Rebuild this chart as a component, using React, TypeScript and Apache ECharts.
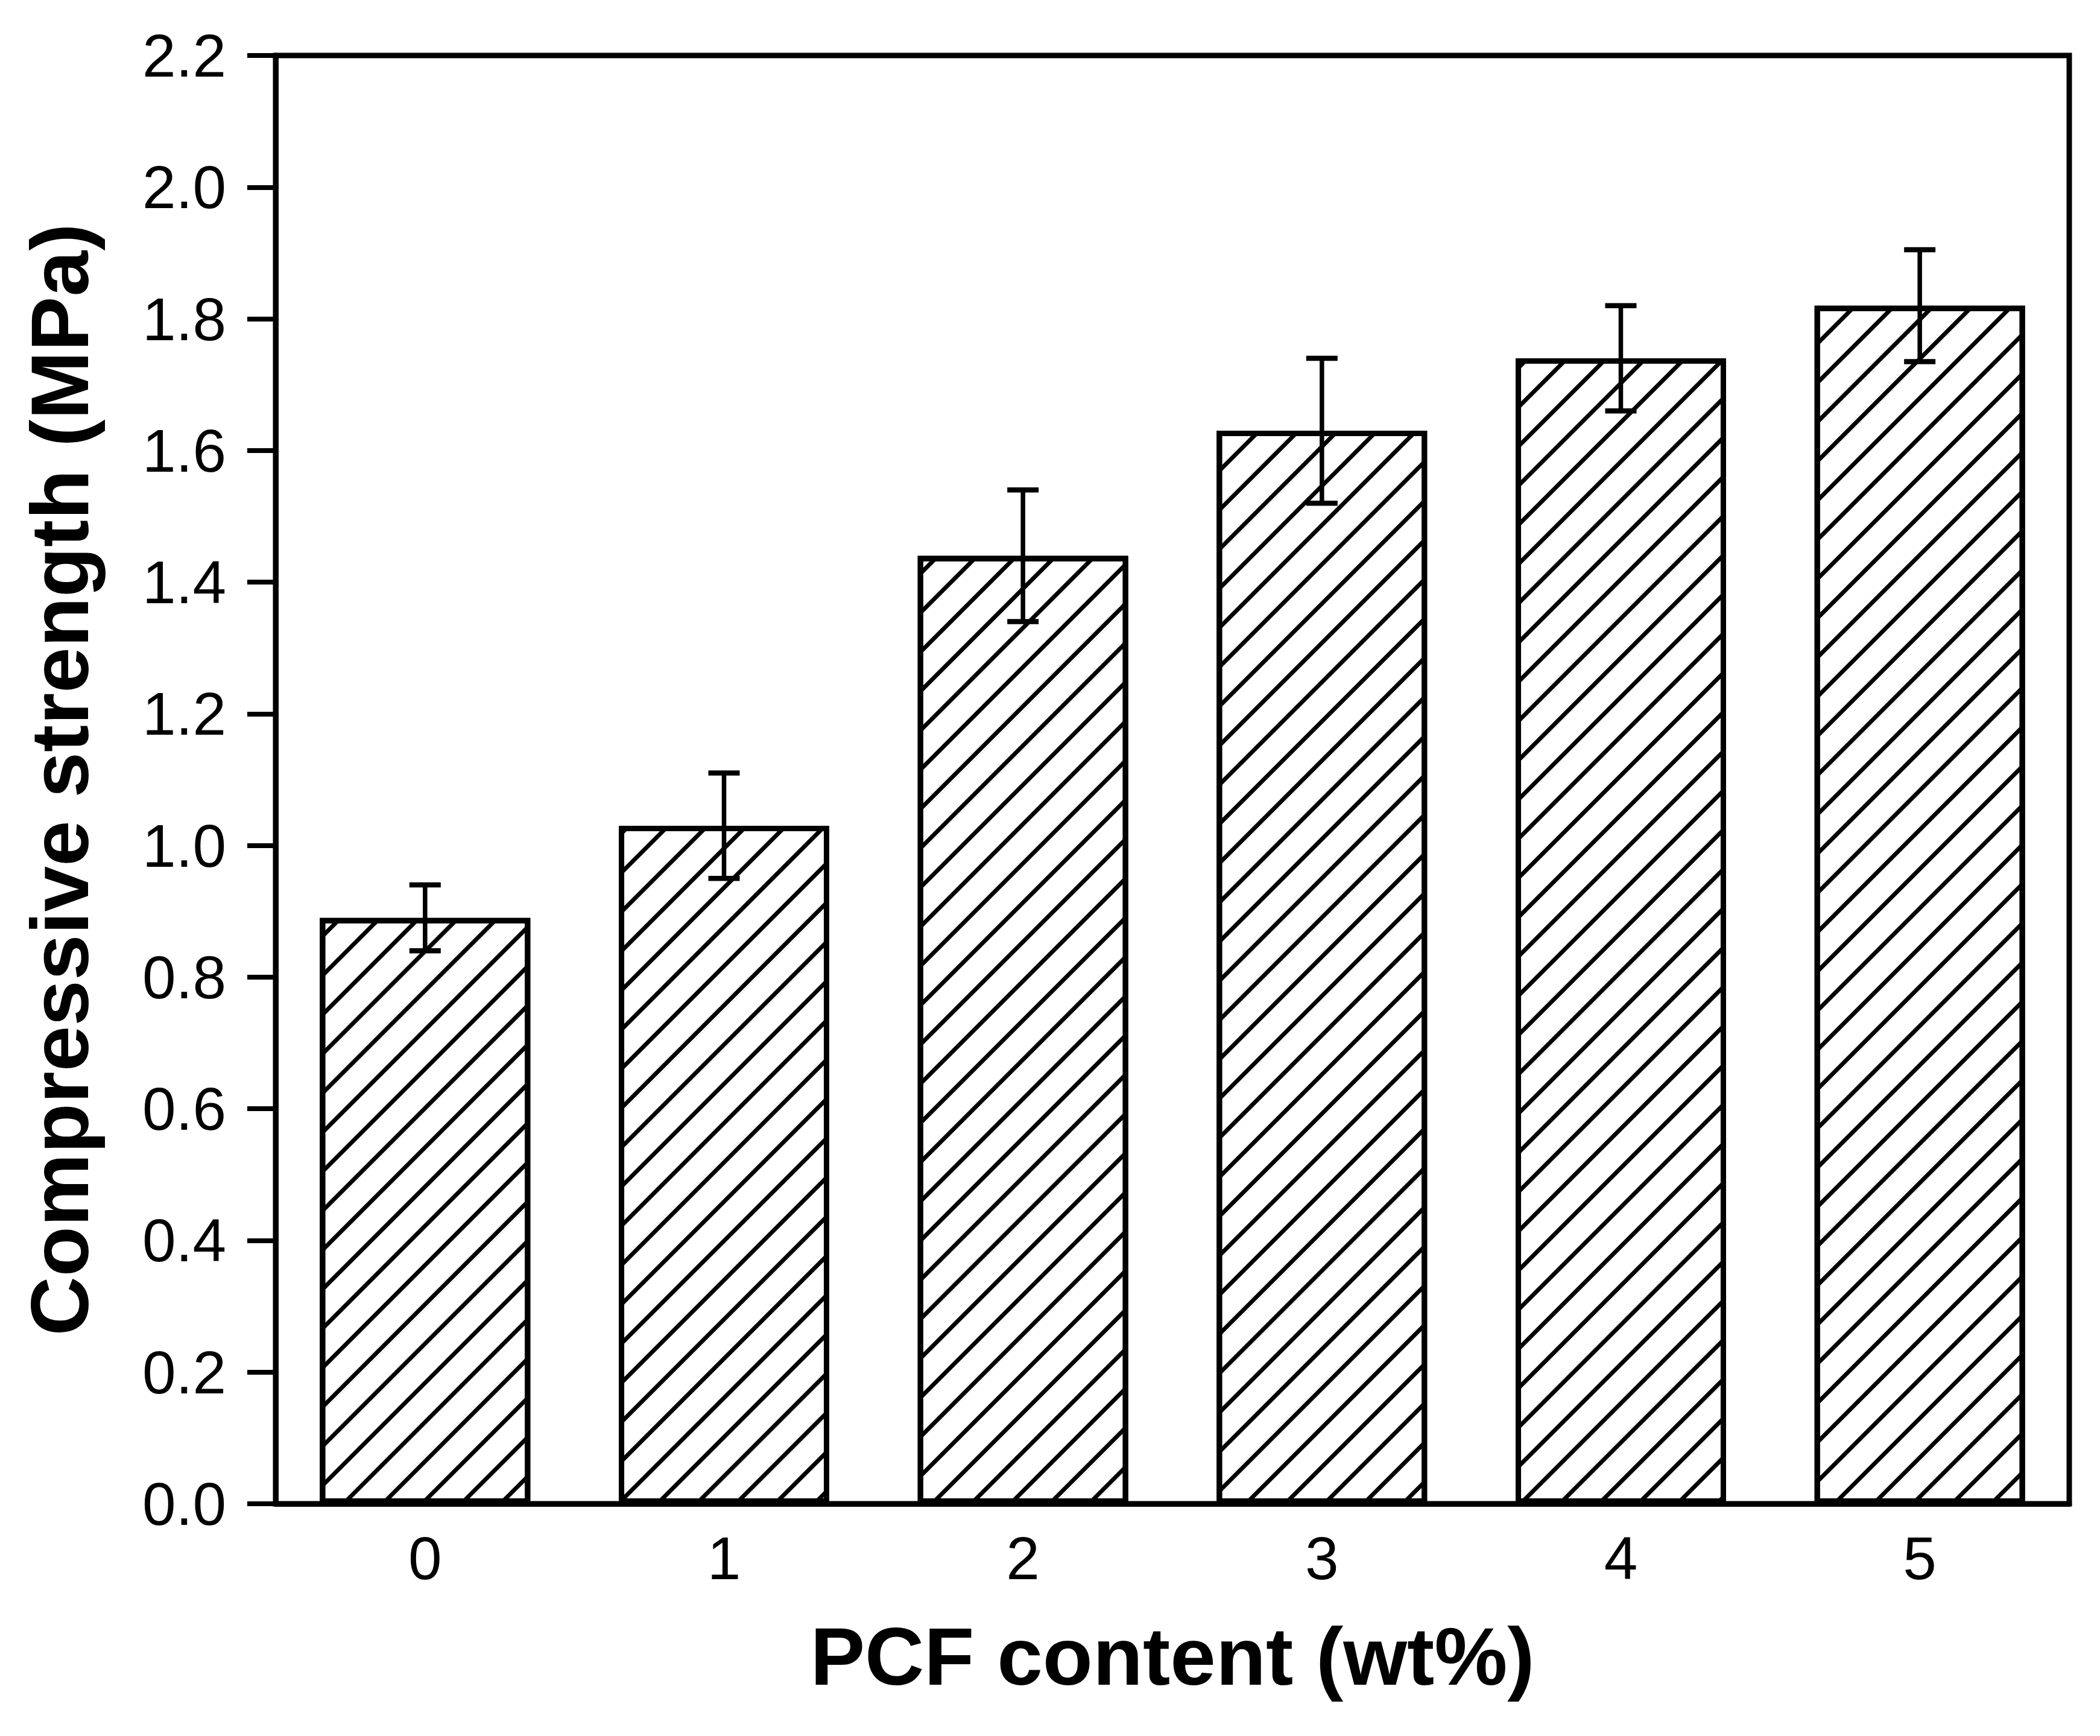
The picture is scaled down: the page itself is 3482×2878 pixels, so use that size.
import { useRef, useEffect } from 'react'
import * as echarts from 'echarts'

const categories = ['0', '1', '2', '3', '4', '5']
const strength = [0.89, 1.03, 1.44, 1.63, 1.74, 1.82]
const errors = [0.05, 0.08, 0.1, 0.11, 0.08, 0.085]

const FONT = '"Liberation Sans", Arial, sans-serif'
const INK = '#000'

export default function App() {
  const chartRef = useRef<HTMLDivElement>(null)

  useEffect(() => {
    if (!chartRef.current) return
    const chart = echarts.init(chartRef.current, undefined, { renderer: 'svg' })

    const errorData = categories.map((c, i) => [i, strength[i], errors[i]])

    const option: echarts.EChartsOption = {
      animation: false,
      backgroundColor: '#fff',
      grid: {
        left: 457,
        right: 51,
        top: 92,
        bottom: 385,
        show: true,
        borderColor: INK,
        borderWidth: 9,
        backgroundColor: 'transparent',
      },
      xAxis: {
        type: 'category',
        data: categories,
        name: 'PCF content (wt%)',
        nameLocation: 'middle',
        nameGap: 185,
        nameTextStyle: { fontFamily: FONT, fontSize: 136, fontWeight: 'bold', color: INK },
        axisLine: { lineStyle: { color: INK, width: 9 } },
        axisTick: { show: false },
        axisLabel: { fontFamily: FONT, fontSize: 100, color: INK, margin: 40 },
      },
      yAxis: {
        type: 'value',
        min: 0,
        max: 2.2,
        interval: 0.2,
        name: 'Compressive strength (MPa)',
        nameLocation: 'middle',
        nameGap: 290,
        nameTextStyle: { fontFamily: FONT, fontSize: 136, fontWeight: 'bold', color: INK },
        axisLine: { show: true, lineStyle: { color: INK, width: 9 } },
        axisTick: { show: true, length: 47, lineStyle: { color: INK, width: 8 } },
        axisLabel: {
          fontFamily: FONT,
          fontSize: 100,
          color: INK,
          margin: 82,
          formatter: (v: number) => v.toFixed(1),
        },
        splitLine: { show: false },
      },
      series: [
        {
          type: 'bar',
          data: strength,
          barWidth: '70.4%',
          itemStyle: {
            color: '#fff',
            borderColor: INK,
            borderWidth: 9,
            decal: {
              symbol: 'rect',
              symbolSize: 1,
              color: INK,
              backgroundColor: 'transparent',
              dashArrayX: [1, 0],
              dashArrayY: [6.5, 38.5],
              rotation: -Math.PI / 4,
            },
          },
          z: 2,
        } as echarts.SeriesOption,
        {
          type: 'custom',
          data: errorData,
          z: 5,
          renderItem: (params: any, api: any) => {
            const x = api.value(0)
            const v = api.value(1)
            const e = api.value(2)
            const top = api.coord([x, v + e])
            const bot = api.coord([x, v - e])
            const hw = 26
            const bar = { stroke: INK, lineWidth: 7.5 }
            const cap = { stroke: INK, lineWidth: 8.5 }
            return {
              type: 'group',
              children: [
                { type: 'line', shape: { x1: top[0], y1: top[1], x2: bot[0], y2: bot[1] }, style: bar },
                { type: 'line', shape: { x1: top[0] - hw, y1: top[1], x2: top[0] + hw, y2: top[1] }, style: cap },
                { type: 'line', shape: { x1: bot[0] - hw, y1: bot[1], x2: bot[0] + hw, y2: bot[1] }, style: cap },
              ],
            }
          },
        } as echarts.SeriesOption,
      ],
    }

    chart.setOption(option, true)
    return () => {
      chart.dispose()
    }
  }, [])

  return (
    <div
      ref={chartRef}
      style={{ position: 'absolute', left: 0, top: 0, width: 3482, height: 2878, background: '#fff' }}
    />
  )
}
